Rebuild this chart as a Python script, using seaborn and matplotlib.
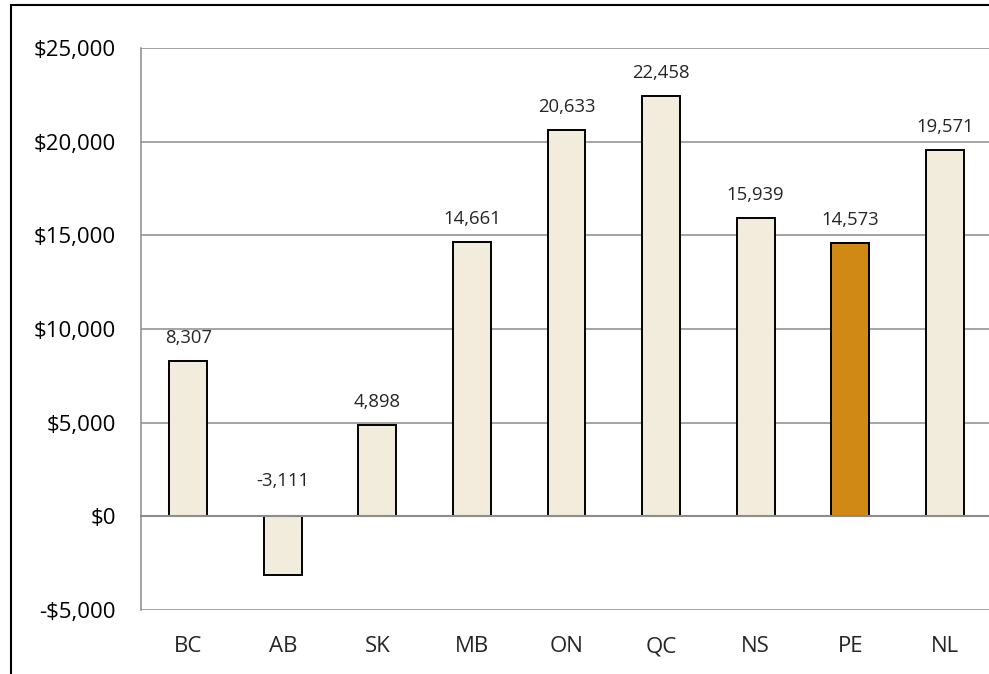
import numpy as np
import pandas as pd
import matplotlib
matplotlib.use('Agg')
import matplotlib.pyplot as plt
import seaborn as sns

provinces = ['BC', 'AB', 'SK', 'MB', 'ON', 'QC', 'NS', 'PE', 'NL']
values = [8307, -3111, 4898, 14661, 20633, 22458, 15939, 14573, 19571]
highlight = 'PE'
y_ticks = [-5000, 0, 5000, 10000, 15000, 20000, 25000]

cream = '#F2ECDC'
orange = '#D08914'
grey = '#8C8C8C'

sns.set_style('white')
plt.rcParams['font.family'] = ['Open Sans', 'DejaVu Sans']

df = pd.DataFrame({'prov': provinces, 'val': values})
pal = {p: (orange if p == highlight else cream) for p in provinces}

fig = plt.figure(figsize=(9.89, 6.74), dpi=100)
ax = fig.add_axes([141/989, 1-610/674, (992-141)/989, (610-48)/674])

sns.barplot(data=df, x='prov', y='val', hue='prov', palette=pal, legend=False,
            width=0.4, saturation=1, edgecolor='black', linewidth=1.4, ax=ax)

ax.set_ylim(-5000, 25000)
ax.set_xlim(-0.5, len(provinces) - 0.5)
ax.set_yticks(y_ticks)
ax.set_yticklabels([('-$' if t < 0 else '$') + f'{abs(t):,}' for t in y_ticks])
ax.yaxis.grid(True, color=grey, lw=1.1)
ax.set_axisbelow(True)
ax.set_xlabel('')
ax.set_ylabel('')
ax.tick_params(axis='y', length=0, pad=18, labelsize=16, colors='black')

# zero line with tick marks between categories
ax.spines['bottom'].set_position(('data', 0))
ax.spines['bottom'].set_color(grey)
ax.spines['bottom'].set_linewidth(1.5)
ax.spines['bottom'].set_zorder(3)
ax.spines['left'].set_color(grey)
ax.spines['left'].set_linewidth(1.1)
ax.spines['top'].set_visible(False)
ax.spines['right'].set_visible(False)
ax.set_xticks(np.arange(len(provinces)))
ax.tick_params(axis='x', which='major', length=0, labelbottom=False)
ax.set_xticks(np.arange(0.5, len(provinces) - 0.5, 1), minor=True)
ax.tick_params(axis='x', which='minor', length=5, width=1.1, color=grey, direction='out')

sec = ax.secondary_xaxis(0)
sec.set_xticks(np.arange(len(provinces)), labels=provinces)
sec.tick_params(length=0, pad=19, labelsize=16)
sec.spines['bottom'].set_visible(False)

for i, v in enumerate(values):
    off = 13 if v >= 0 else 22
    ax.annotate(f'{v:,}', xy=(i, max(v, 0)), xytext=(0, off), textcoords='offset points',
                ha='center', va='baseline', fontsize=13.3)

fig.add_artist(plt.Rectangle((11/989, -0.1), 1.2, (1 - 5/674) + 0.1, fill=False,
                             ec='black', lw=1.5, transform=fig.transFigure, clip_on=False))

fig.savefig('out.png', dpi=100)
